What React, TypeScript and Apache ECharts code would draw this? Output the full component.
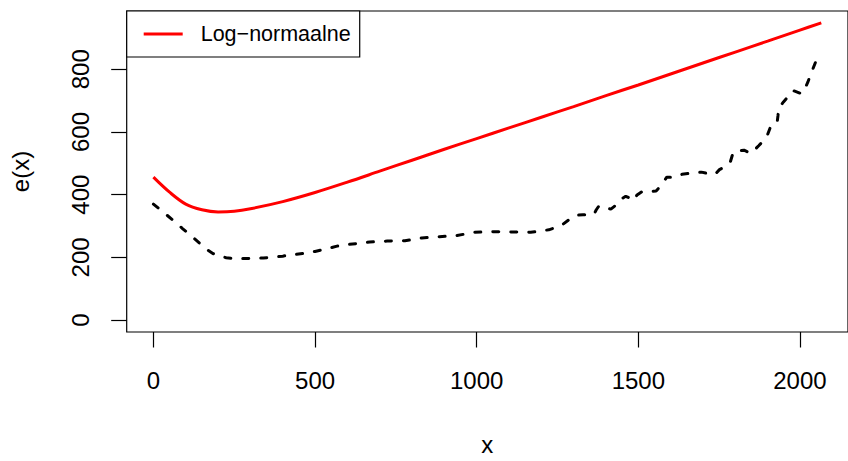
import React, { useEffect, useRef } from "react";
import * as echarts from "echarts";

// Tick labels
const xTicks = [0, 500, 1000, 1500, 2000];
const yTicks = [0, 200, 400, 600, 800];

// Log-normal mean residual life (red line)
const redX = [0, 50, 100, 150, 200, 250, 300, 400, 500, 600, 700, 800, 900, 1000, 1100, 1200, 1300, 1400, 1500, 1600, 1700, 1800, 1900, 2000, 2066];
const redY = [456, 408, 370, 352, 345, 347, 355, 378, 407, 440, 475, 510, 545, 579, 613, 647, 681, 716, 750, 785, 820, 855, 890, 925, 948];

// Empirical mean residual life (black dashed line)
const empX = [0, 30, 60, 90, 111, 140, 161, 185, 202, 225, 243, 270, 303, 340, 364, 400, 425, 466, 500, 527, 550, 568, 600, 629, 669, 700, 723, 778, 830, 885, 939, 994, 1049, 1109, 1167, 1209, 1223, 1240, 1266, 1284, 1305, 1329, 1350, 1363, 1370, 1378, 1400, 1415, 1425, 1433, 1445, 1461, 1488, 1495, 1512, 1536, 1555, 1570, 1588, 1613, 1635, 1675, 1695, 1730, 1740, 1751, 1770, 1785, 1794, 1827, 1848, 1853, 1873, 1888, 1900, 1908, 1929, 1932, 1934, 1949, 1965, 1979, 2005, 2015, 2024, 2033, 2051, 2066];
const empY = [370, 345, 319, 292, 274, 248, 228, 212, 205, 199, 197, 196, 197, 198, 200, 204, 208, 213, 219, 225, 231, 236, 241, 244, 249, 251, 252, 253, 262, 266, 270, 280, 282, 281, 280, 286, 288, 294, 305, 319, 334, 336, 336, 338, 352, 364, 358, 354, 362, 369, 385, 395, 382, 398, 410, 410, 412, 429, 456, 456, 465, 470, 472, 464, 468, 480, 490, 506, 537, 542, 532, 536, 557, 573, 592, 614, 627, 652, 675, 696, 715, 732, 722, 738, 758, 783, 830, 850];

const FONT = "'Liberation Sans', Arial, Helvetica, sans-serif";

export default function App() {
  const ref = useRef<HTMLDivElement>(null);

  useEffect(() => {
    if (!ref.current) return;
    const chart = echarts.init(ref.current, null, { renderer: "svg" });
    chart.setOption({
      animation: false,
      backgroundColor: "#ffffff",
      textStyle: { fontFamily: FONT, color: "#000" },
      grid: {
        show: true,
        left: 126.7,
        top: 11,
        width: 732,
        height: 331.5,
        borderColor: "#000",
        borderWidth: 1.2,
        backgroundColor: "transparent",
      },
      legend: {
        show: true,
        data: [{ name: "Log−normaalne", icon: "rect" }],
        left: 126.7,
        top: 11,
        orient: "vertical",
        padding: [12, 9, 12, 17],
        itemWidth: 39,
        itemHeight: 3,
        backgroundColor: "#ffffff",
        borderColor: "#000",
        borderWidth: 1.2,
        borderRadius: 0,
        selectedMode: false,
        itemStyle: { color: "#ff0000" },
        formatter: (n: string) => "{a|" + n + "}",
        textStyle: {
          fontFamily: FONT,
          fontSize: 21.5,
          color: "#000",
          rich: { a: { fontFamily: FONT, fontSize: 21.5, color: "#000", padding: [0, 0, 0, 13] } },
        },
      },
      xAxis: {
        type: "value",
        min: -82.64,
        max: 2148.64,
        axisLine: { show: false, onZero: false },
        splitLine: { show: false },
        axisTick: {
          show: true,
          customValues: xTicks,
          length: 15.5,
          lineStyle: { color: "#000", width: 1.2 },
        },
        axisLabel: {
          customValues: xTicks,
          formatter: (v: number) => String(v),
          fontSize: 24,
          color: "#000",
          fontFamily: FONT,
          margin: 36,
        },
        name: "x",
        nameLocation: "middle",
        nameGap: 100,
        nameTextStyle: { fontSize: 24, color: "#000", fontFamily: FONT },
      },
      yAxis: {
        type: "value",
        min: -37.92,
        max: 985.92,
        axisLine: { show: false, onZero: false },
        splitLine: { show: false },
        axisTick: {
          show: true,
          customValues: yTicks,
          length: 15.5,
          lineStyle: { color: "#000", width: 1.2 },
        },
        axisLabel: {
          customValues: yTicks,
          formatter: (v: number) => String(v),
          rotate: 90,
          fontSize: 24,
          color: "#000",
          fontFamily: FONT,
          margin: 34,
        },
        name: "e(x)",
        nameLocation: "middle",
        nameRotate: 90,
        nameGap: 94,
        nameTextStyle: { fontSize: 24, color: "#000", fontFamily: FONT },
      },
      series: [
        {
          type: "line",
          name: "Log−normaalne",
          data: redX.map((x, i) => [x, redY[i]]),
          symbol: "none",
          showSymbol: false,
          smooth: 0.35,
          color: "#ff0000",
          lineStyle: { color: "#ff0000", width: 3 },
          z: 3,
        },
        {
          type: "line",
          name: "empirical",
          data: empX.map((x, i) => [x, empY[i]]),
          symbol: "none",
          showSymbol: false,
          color: "#000",
          lineStyle: { color: "#000", width: 3, type: [6, 12], cap: "round" },
          z: 2,
        },
      ],
    });
    return () => chart.dispose();
  }, []);

  return (
    <div
      ref={ref}
      style={{ position: "fixed", left: 0, top: 0, width: 848, height: 461, background: "#fff" }}
    />
  );
}
